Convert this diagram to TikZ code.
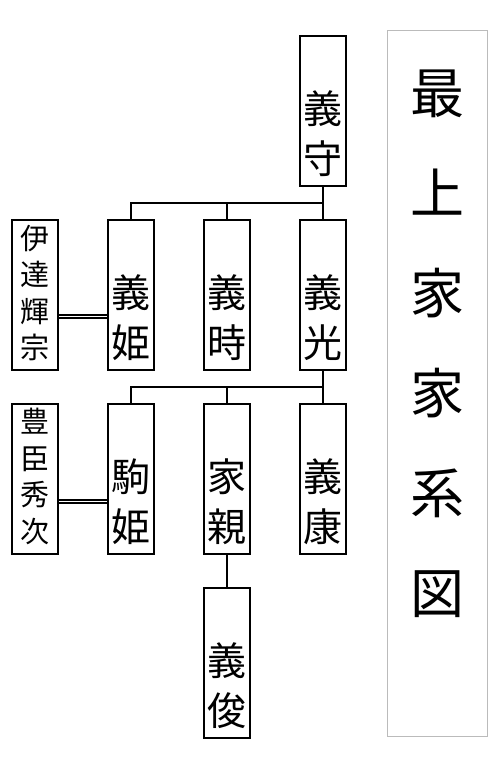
\documentclass[tikz,border=0pt]{standalone}
\usepackage{fontspec}
\newfontfamily\cjk{Noto Sans CJK JP}
\usetikzlibrary{calc}
\definecolor{ink}{HTML}{000000}
\definecolor{frame}{HTML}{BBBBBB}
\tikzset{
  namebox/.style  = {rectangle, draw=ink, line width=2pt, minimum width=46pt, minimum height=150pt, inner sep=0pt},
  titlebox/.style = {rectangle, draw=frame, line width=0.8pt, minimum width=100pt, minimum height=706pt, inner sep=0pt},
  link/.style     = {draw=ink, line width=2pt},
  wed/.style      = {draw=ink, line width=2pt, double=white, double distance=1.2pt},
  kname/.style    = {font=\cjk\fontsize{39}{50}\selectfont, align=center, inner sep=0pt, anchor=south},
  sname/.style    = {font=\cjk\fontsize{29}{36.5}\selectfont, align=center, inner sep=0pt, anchor=south},
  tname/.style    = {font=\cjk\fontsize{54}{100}\selectfont, align=center, inner sep=0pt, anchor=north}
}
\begin{document}
\begin{tikzpicture}[x=1pt, y=-1pt]
  \useasboundingbox (0,0) rectangle (502,762);
  % boxes
  \node[namebox] (yoshimori) at (323,111) {};
  \node[namebox] (terumune)  at (35,295)  {};
  \node[namebox] (yoshihime) at (131,295) {};
  \node[namebox] (yoshitoki) at (227,295) {};
  \node[namebox] (yoshiaki)  at (323,295) {};
  \node[namebox] (hidetsugu) at (35,479)  {};
  \node[namebox] (komahime)  at (131,479) {};
  \node[namebox] (iechika)   at (227,479) {};
  \node[namebox] (yoshiyasu) at (323,479) {};
  \node[namebox] (yoshitoshi) at (227,663) {};
  \node[titlebox] (title) at (437.5,383.5) {};
  % names
  \node[kname] (yoshimori-t)  at ($(yoshimori.south)+(0,-10)$)  {義\\守};
  \node[sname] (terumune-t)   at ($(terumune.south)+(0,-10)$)   {伊\\達\\輝\\宗};
  \node[kname] (yoshihime-t)  at ($(yoshihime.south)+(0,-10)$)  {義\\姫};
  \node[kname] (yoshitoki-t)  at ($(yoshitoki.south)+(0,-10)$)  {義\\時};
  \node[kname] (yoshiaki-t)   at ($(yoshiaki.south)+(0,-10)$)   {義\\光};
  \node[sname] (hidetsugu-t)  at ($(hidetsugu.south)+(0,-10)$)  {豊\\臣\\秀\\次};
  \node[kname] (komahime-t)   at ($(komahime.south)+(0,-10)$)   {駒\\姫};
  \node[kname] (iechika-t)    at ($(iechika.south)+(0,-10)$)    {家\\親};
  \node[kname] (yoshiyasu-t)  at ($(yoshiyasu.south)+(0,-10)$)  {義\\康};
  \node[kname] (yoshitoshi-t) at ($(yoshitoshi.south)+(0,-10)$) {義\\俊};
  \node[tname] (title-t) at ($(title.north)+(0,40)$) {最\\上\\家\\家\\系\\図};
  % lines
  \coordinate (fork1) at ($(yoshimori.south)!0.5!(yoshiaki.north)$);
  \coordinate (fork2) at ($(yoshiaki.south)!0.5!(yoshiyasu.north)$);
  \draw[link] (yoshimori.south) -- (yoshiaki.north);
  \draw[link] (yoshihime.north) |- (fork1);
  \draw[link] (yoshitoki.north) -- (yoshitoki.north |- fork1);
  \draw[link] (yoshiaki.south) -- (yoshiyasu.north);
  \draw[link] (komahime.north) |- (fork2);
  \draw[link] (iechika.north) -- (iechika.north |- fork2);
  \draw[link] (iechika.south) -- (yoshitoshi.north);
  \draw[wed] ($(terumune.east)+(0,21.5)$) -- ($(yoshihime.west)+(0,21.5)$);
  \draw[wed] ($(hidetsugu.east)+(0,22.5)$) -- ($(komahime.west)+(0,22.5)$);
\end{tikzpicture}
\end{document}
